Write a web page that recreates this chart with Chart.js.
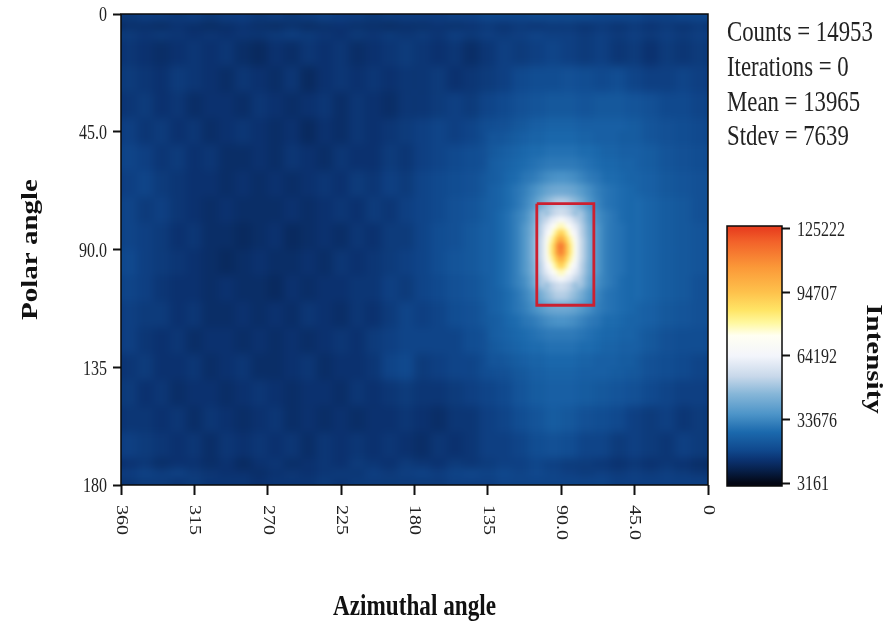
<!DOCTYPE html>
<html>
<head>
<meta charset="utf-8">
<title>Intensity map</title>
<script src="https://cdn.jsdelivr.net/npm/chart.js@4/dist/chart.umd.min.js"></script>
<style>
  body { margin: 0; background: #fff; width: 896px; height: 622px; position: relative; overflow: hidden; }
  canvas { position: absolute; display: block; }
  .stat { position: absolute; left: 727px; font: 28.5px "Liberation Serif", serif; color: #222; white-space: nowrap; line-height: 30px; transform: scaleX(0.8); transform-origin: left center; }
</style>
</head>
<body>
<canvas id="map" width="896" height="622" style="left:0;top:0"></canvas>
<canvas id="bar" width="196" height="310" style="left:700px;top:200px"></canvas>
<div id="stats"></div>
<script>
var statLines = ['Counts = 14953', 'Iterations = 0', 'Mean = 13965', 'Stdev = 7639'];

var azimuthTicks = [360, 315, 270, 225, 180, 135, 90, 45, 0];
var azimuthLabels = ['360', '315', '270', '225', '180', '135', '90.0', '45.0', '0'];
var polarTicks = [0, 45, 90, 135, 180];
var polarLabels = ['0', '45.0', '90.0', '135', '180'];
var intensityTicks = [3161, 33676, 64192, 94707, 125222];

// red box around the peak
var boxAzimuth = [105, 70, 70, 105, 105];
var boxPolar = [72.5, 72.5, 111.3, 111.3, 72.5];

// whole map, 10 degree columns, intensity in thousands
var wideAzimuth = [355, 345, 335, 325, 315, 305, 295, 285, 275, 265, 255, 245, 235, 225, 215, 205, 195, 185, 175, 165, 155, 145, 135, 125, 115, 105, 95, 85, 75, 65, 55, 45, 35, 25, 15, 5];
var widePolar = [0, 3, 6, 10, 20, 30, 40, 50, 60, 70, 80, 90, 100, 110, 120, 130, 140, 150, 160, 170, 174, 177, 180];
var wideValues = [
  [16, 17, 17, 16, 17, 16, 17, 17, 16, 17, 16, 17, 18, 17, 17, 16, 17, 17, 17, 17, 18, 18, 19, 19, 19, 20, 20, 20, 20, 19, 19, 19, 18, 18, 19, 19],
  [13, 13, 12, 14, 13, 12, 13, 14, 13, 12, 13, 12, 13, 14, 13, 13, 12, 13, 13, 14, 13, 14, 15, 14, 15, 14, 15, 15, 14, 15, 14, 15, 14, 15, 14, 15],
  [16, 15, 16, 15, 14, 15, 14, 15, 15, 16, 17, 16, 15, 14, 16, 15, 16, 15, 16, 15, 17, 16, 17, 16, 17, 18, 17, 17, 16, 17, 16, 17, 16, 17, 16, 17],
  [15, 14, 13, 14, 15, 14, 15, 13, 12, 14, 13, 15, 14, 15, 13, 14, 15, 16, 15, 14, 15, 13, 15, 17, 16, 17, 18, 17, 16, 17, 15, 16, 14, 16, 15, 16],
  [16, 15, 14, 16, 15, 14, 13, 15, 14, 13, 15, 12, 14, 15, 14, 15, 14, 15, 15, 16, 14, 15, 16, 17, 19, 20, 20, 21, 20, 19, 20, 18, 17, 17, 18, 17],
  [15, 16, 14, 15, 13, 14, 14, 13, 15, 14, 13, 14, 15, 13, 15, 14, 13, 15, 15, 16, 17, 16, 18, 19, 21, 22, 23, 23, 22, 23, 23, 22, 21, 19, 19, 18],
  [17, 15, 16, 14, 15, 13, 14, 15, 14, 13, 14, 12, 14, 13, 15, 14, 15, 16, 17, 18, 17, 18, 20, 21, 23, 25, 26, 26, 25, 25, 25, 24, 22, 21, 20, 19],
  [18, 17, 15, 16, 14, 15, 13, 13, 14, 13, 15, 14, 13, 15, 14, 14, 16, 15, 17, 18, 19, 20, 21, 23, 26, 28, 30, 32, 31, 29, 27, 25, 24, 22, 21, 20],
  [17, 18, 16, 15, 14, 14, 13, 14, 13, 14, 13, 14, 15, 14, 16, 15, 17, 16, 18, 19, 20, 21, 23, 25, 28, 32, 35, 35, 32, 30, 28, 26, 25, 23, 22, 21],
  [18, 16, 17, 15, 14, 13, 14, 13, 13, 13, 14, 13, 14, 15, 14, 16, 15, 17, 18, 19, 21, 22, 24, 26, 30, 36, 40, 40, 36, 32, 30, 28, 26, 24, 23, 21],
  [18, 17, 16, 14, 15, 13, 13, 12, 13, 14, 12, 13, 14, 13, 15, 14, 16, 16, 18, 20, 21, 23, 25, 27, 31, 38, 46, 46, 38, 33, 30, 28, 26, 24, 23, 22],
  [19, 17, 16, 15, 14, 13, 12, 13, 14, 13, 13, 14, 13, 15, 14, 15, 16, 17, 18, 20, 22, 23, 25, 27, 31, 38, 46, 46, 38, 33, 30, 28, 26, 24, 23, 22],
  [18, 17, 15, 14, 14, 13, 14, 13, 13, 12, 14, 13, 14, 14, 15, 15, 17, 16, 18, 19, 21, 22, 24, 26, 30, 36, 40, 40, 36, 32, 30, 28, 26, 24, 23, 21],
  [17, 16, 16, 14, 15, 13, 13, 14, 13, 14, 13, 15, 14, 13, 15, 14, 16, 18, 17, 18, 20, 21, 23, 25, 28, 32, 35, 34, 32, 30, 28, 26, 25, 23, 22, 21],
  [17, 15, 14, 15, 13, 14, 14, 13, 14, 13, 14, 13, 14, 15, 14, 16, 17, 18, 18, 18, 18, 20, 21, 23, 26, 28, 30, 32, 30, 28, 26, 25, 23, 21, 20, 20],
  [15, 16, 14, 14, 15, 13, 14, 15, 13, 13, 14, 15, 13, 14, 14, 15, 18, 19, 16, 17, 18, 18, 20, 21, 23, 25, 26, 26, 25, 25, 24, 23, 21, 20, 19, 18],
  [16, 14, 15, 13, 14, 14, 13, 14, 15, 14, 13, 14, 14, 13, 15, 14, 15, 16, 15, 15, 16, 17, 18, 19, 22, 24, 25, 25, 24, 23, 22, 21, 19, 18, 17, 17],
  [15, 15, 14, 15, 13, 15, 14, 13, 14, 15, 13, 14, 13, 14, 13, 14, 14, 15, 14, 13, 15, 15, 17, 18, 20, 22, 24, 23, 21, 20, 19, 17, 16, 17, 15, 16],
  [17, 16, 15, 14, 15, 13, 15, 14, 15, 14, 15, 13, 15, 14, 15, 14, 15, 14, 13, 15, 14, 15, 17, 17, 18, 20, 21, 20, 18, 18, 16, 17, 16, 15, 17, 16],
  [14, 15, 13, 14, 14, 13, 14, 12, 14, 15, 13, 14, 15, 14, 16, 15, 14, 16, 15, 14, 16, 15, 16, 17, 17, 18, 17, 16, 16, 15, 14, 15, 14, 15, 14, 13],
  [17, 18, 17, 18, 16, 15, 14, 14, 13, 14, 15, 14, 15, 16, 15, 17, 16, 17, 18, 17, 18, 19, 18, 19, 18, 19, 18, 17, 16, 17, 16, 17, 16, 17, 16, 15],
  [15, 16, 16, 15, 16, 15, 15, 15, 14, 15, 15, 15, 16, 15, 16, 16, 16, 16, 16, 16, 17, 17, 17, 18, 18, 18, 18, 18, 18, 18, 17, 17, 17, 17, 17, 17]
];

// around the peak, 5 degree cells
var midAzimuth = [132.5, 127.5, 122.5, 117.5, 112.5, 107.5, 102.5, 97.5, 92.5, 87.5, 82.5, 77.5, 72.5, 67.5, 62.5, 57.5, 52.5, 47.5];
var midPolar = [45, 50, 55, 60, 65, 70, 75, 80, 85, 90, 95, 100, 105, 110, 115, 120, 125, 130, 135];
var midValues = [
  [22, 22, 23, 24, 25, 26, 26, 27, 27, 27, 27, 26, 26, 25, 25, 25, 24, 24],
  [23, 24, 25, 26, 27, 28, 28, 29, 29, 29, 29, 28, 28, 27, 26, 26, 25, 25],
  [24, 25, 26, 27, 28, 29, 30, 31, 31, 31, 31, 30, 29, 28, 27, 27, 26, 26],
  [24, 25, 27, 28, 30, 31, 33, 35, 36, 36, 35, 33, 31, 30, 28, 28, 27, 26],
  [25, 26, 28, 30, 32, 35, 38, 41, 42, 42, 41, 38, 35, 32, 30, 29, 28, 27],
  [25, 26, 28, 30, 33, 37, 43, 48, 52, 52, 48, 43, 37, 33, 30, 29, 28, 27],
  [25, 27, 29, 32, 35, 41, 50, 59, 64, 64, 59, 50, 41, 35, 32, 30, 28, 27],
  [25, 27, 29, 32, 37, 43, 53, 66, 78, 78, 66, 53, 43, 37, 32, 30, 29, 27],
  [25, 27, 29, 32, 37, 44, 55, 72, 100, 100, 72, 55, 44, 37, 32, 30, 29, 27],
  [25, 27, 29, 32, 37, 44, 55, 72, 100, 100, 72, 55, 44, 37, 32, 30, 29, 27],
  [25, 27, 29, 32, 37, 43, 53, 66, 78, 78, 66, 53, 43, 37, 32, 30, 29, 27],
  [25, 27, 29, 32, 35, 41, 50, 59, 64, 64, 59, 50, 41, 35, 32, 30, 28, 27],
  [25, 26, 28, 30, 33, 37, 43, 48, 52, 52, 48, 43, 37, 33, 30, 29, 28, 27],
  [25, 26, 28, 30, 32, 35, 38, 41, 42, 42, 41, 38, 35, 32, 30, 29, 28, 27],
  [24, 25, 27, 28, 30, 31, 33, 35, 36, 36, 35, 33, 31, 30, 28, 28, 27, 26],
  [24, 25, 26, 27, 28, 29, 30, 31, 31, 31, 31, 30, 29, 28, 27, 27, 26, 26],
  [23, 24, 25, 26, 27, 28, 28, 29, 29, 29, 29, 28, 28, 27, 26, 26, 25, 25],
  [22, 22, 23, 24, 25, 26, 26, 27, 27, 27, 27, 26, 26, 25, 25, 25, 24, 24]
];

// the peak itself, 2.5 degree cells
var coreAzimuth = [98.75, 96.25, 93.75, 91.25, 88.75, 86.25, 83.75, 81.25];
var corePolar = [75, 77.5, 80, 82.5, 85, 87.5, 90, 92.5, 95, 97.5, 100, 102.5, 105];
var coreValues = [
  [48, 52, 54, 56, 56, 54, 52, 48],
  [54, 60, 62, 66, 66, 62, 60, 54],
  [60, 66, 72, 78, 78, 72, 66, 60],
  [64, 72, 80, 90, 90, 80, 72, 64],
  [68, 78, 88, 102, 100, 88, 78, 68],
  [70, 82, 94, 114, 112, 94, 82, 70],
  [70, 82, 94, 112, 110, 94, 82, 70],
  [68, 78, 88, 100, 100, 88, 78, 68],
  [64, 72, 80, 90, 90, 80, 72, 64],
  [60, 66, 72, 78, 78, 72, 66, 60],
  [54, 60, 62, 66, 66, 62, 60, 54],
  [48, 52, 54, 56, 56, 54, 52, 48]
];

var colorStops = [
  [0, '#030714'], [0.05, '#07204a'], [0.09, '#0b3270'], [0.13, '#10498e'], [0.2, '#1b69ad'],
  [0.27, '#4c94c8'], [0.35, '#86b6d8'], [0.42, '#c8d8ea'], [0.5, '#f3f5fb'], [0.58, '#fffff2'],
  [0.63, '#fff8a0'], [0.68, '#ffe566'], [0.75, '#fec24c'], [0.85, '#fb9838'], [0.95, '#f2622a'], [1, '#e8401f']
];

var serif = '"Liberation Serif", serif';
var tickFont = '20px ' + serif;
var titleFont = 'bold 29px ' + serif;

function hexRgb(h) {
  return [parseInt(h.substr(1, 2), 16), parseInt(h.substr(3, 2), 16), parseInt(h.substr(5, 2), 16)];
}

function colorFor(thousands) {
  var f = (thousands * 1000 - 3161) / (125222 - 3161);
  f = Math.max(0, Math.min(1, f));
  for (var i = 1; i < colorStops.length; i++) {
    if (f <= colorStops[i][0]) {
      var a = colorStops[i - 1], b = colorStops[i];
      var t = (f - a[0]) / (b[0] - a[0]);
      var ca = hexRgb(a[1]), cb = hexRgb(b[1]);
      return 'rgb(' + ca.map(function(c, k) { return Math.round(c + (cb[k] - c) * t); }).join(',') + ')';
    }
  }
  return colorStops[colorStops.length - 1][1];
}

function toCells(columns, edges, grid) {
  var cells = [];
  grid.forEach(function(row, r) {
    row.forEach(function(v, c) {
      cells.push({ x: columns[c], y: [edges[r], edges[r + 1]], v: v });
    });
  });
  return cells;
}

function layer(cells, axis, blurPx, order) {
  return {
    type: 'bar', data: cells, xAxisID: axis, order: order, blurPx: blurPx,
    grouped: false, barPercentage: 1, categoryPercentage: 1, borderWidth: 0, borderSkipped: false,
    backgroundColor: function(ctx) { return ctx.raw ? colorFor(ctx.raw.v) : '#000'; }
  };
}

function hiddenAzimuth() {
  return { type: 'linear', display: false, min: 0, max: 360, reverse: true, offset: false };
}

// the reference image is squeezed sideways, so all its text is too
function drawSquashed(ctx, text, x, y, angle, font, color, align) {
  ctx.save();
  ctx.translate(x, y);
  ctx.scale(0.8, 1);
  ctx.rotate(angle);
  ctx.font = font;
  ctx.fillStyle = color;
  ctx.textAlign = align;
  ctx.textBaseline = 'middle';
  ctx.fillText(text, 0, 0);
  ctx.restore();
}

function drawFrame(chart, width) {
  var a = chart.chartArea, c = chart.ctx;
  c.save();
  c.strokeStyle = '#0a0a0a';
  c.lineWidth = width;
  c.strokeRect(a.left, a.top, a.width, a.height);
  c.restore();
}

var mapPlugin = {
  id: 'mapPlugin',
  afterDatasetDraw: function(chart, args) {
    var r = chart.data.datasets[args.index].blurPx;
    if (!r) return;
    var a = chart.chartArea, c = chart.ctx;
    c.save();
    c.beginPath();
    c.rect(a.left, a.top, a.width, a.height);
    c.clip();
    c.filter = 'blur(' + r + 'px)';
    c.drawImage(c.canvas, a.left, a.top, a.width, a.height, a.left, a.top, a.width, a.height);
    c.restore();
  },
  afterDraw: function(chart) {
    var c = chart.ctx, x = chart.scales.x, y = chart.scales.y, a = chart.chartArea;
    drawFrame(chart, 1.5);
    azimuthTicks.forEach(function(t, i) {
      drawSquashed(c, azimuthLabels[i], x.getPixelForValue(t), a.bottom + 20, Math.PI / 2, tickFont, '#222', 'left');
    });
    polarTicks.forEach(function(t, i) {
      drawSquashed(c, polarLabels[i], a.left - 14, y.getPixelForValue(t) + 2, 0, tickFont, '#222', 'right');
    });
    drawSquashed(c, 'Polar angle', 31, (a.top + a.bottom) / 2, -Math.PI / 2, titleFont, '#111', 'center');
    drawSquashed(c, 'Azimuthal angle', (a.left + a.right) / 2, 608, 0, titleFont, '#111', 'center');
  }
};

var barPlugin = {
  id: 'barPlugin',
  afterDraw: function(chart) {
    var c = chart.ctx, y = chart.scales.y;
    drawFrame(chart, 1.5);
    intensityTicks.forEach(function(t) {
      drawSquashed(c, String(t), 97, y.getPixelForValue(t) + 2, 0, tickFont, '#222', 'left');
    });
    drawSquashed(c, 'Intensity', 173, 159, Math.PI / 2, titleFont, '#111', 'center');
  }
};

new Chart(document.getElementById('map'), {
  type: 'bar',
  plugins: [mapPlugin],
  data: {
    datasets: [
      layer(toCells(wideAzimuth, widePolar, wideValues), 'x', 3, 3),
      layer(toCells(midAzimuth, midPolar, midValues), 'xMid', 2.5, 2),
      layer(toCells(coreAzimuth, corePolar, coreValues), 'xCore', 2, 1),
      {
        type: 'line', order: 0, xAxisID: 'x', pointRadius: 0, fill: false, tension: 0,
        borderColor: '#cc2030', borderWidth: 2.8, borderJoinStyle: 'miter',
        data: boxAzimuth.map(function(v, i) { return { x: v, y: boxPolar[i] }; })
      }
    ]
  },
  options: {
    responsive: false,
    animation: false,
    layout: { padding: { left: 0, top: 14, right: 188, bottom: 0 } },
    plugins: { legend: { display: false }, tooltip: { enabled: false } },
    scales: {
      x: {
        type: 'linear', min: 0, max: 360, reverse: true, offset: false,
        afterBuildTicks: function(s) { s.ticks = azimuthTicks.map(function(v) { return { value: v }; }); },
        afterFit: function(s) { s.height = 137; },
        ticks: { display: false },
        border: { display: false },
        grid: { offset: false, drawOnChartArea: false, tickLength: 10, tickColor: '#111', tickWidth: 2 }
      },
      xMid: hiddenAzimuth(),
      xCore: hiddenAzimuth(),
      y: {
        type: 'linear', min: 0, max: 180, reverse: true,
        afterBuildTicks: function(s) { s.ticks = polarTicks.map(function(v) { return { value: v }; }); },
        afterFit: function(s) { s.width = 121; },
        ticks: { display: false },
        border: { display: false },
        grid: { drawOnChartArea: false, tickLength: 8, tickColor: '#111', tickWidth: 2 }
      }
    }
  }
});

var scaleEnds = [1720, 126660];

new Chart(document.getElementById('bar'), {
  type: 'bar',
  plugins: [barPlugin],
  data: {
    labels: ['Intensity'],
    datasets: [{
      data: [scaleEnds],
      barPercentage: 1, categoryPercentage: 1, borderWidth: 0, borderSkipped: false,
      backgroundColor: function(ctx) {
        var y = ctx.chart.scales.y;
        if (!ctx.chart.chartArea || !y) return '#1b69ad';
        var g = ctx.chart.ctx.createLinearGradient(0, y.getPixelForValue(3161), 0, y.getPixelForValue(125222));
        colorStops.forEach(function(s) { g.addColorStop(s[0], s[1]); });
        return g;
      }
    }]
  },
  options: {
    responsive: false,
    animation: false,
    layout: { padding: { left: 27, top: 26, right: 0, bottom: 24 } },
    plugins: { legend: { display: false }, tooltip: { enabled: false } },
    scales: {
      x: { display: false },
      y: {
        position: 'right', min: scaleEnds[0], max: scaleEnds[1],
        afterBuildTicks: function(s) { s.ticks = intensityTicks.map(function(v) { return { value: v }; }); },
        afterFit: function(s) { s.width = 114; },
        ticks: { display: false },
        border: { display: false },
        grid: { drawOnChartArea: false, tickLength: 8, tickColor: '#111', tickWidth: 2 }
      }
    }
  }
});

var statTops = [17, 52, 87, 121];
statLines.forEach(function(line, i) {
  var d = document.createElement('div');
  d.className = 'stat';
  d.style.top = statTops[i] + 'px';
  d.textContent = line;
  document.getElementById('stats').appendChild(d);
});
</script>
</body>
</html>
